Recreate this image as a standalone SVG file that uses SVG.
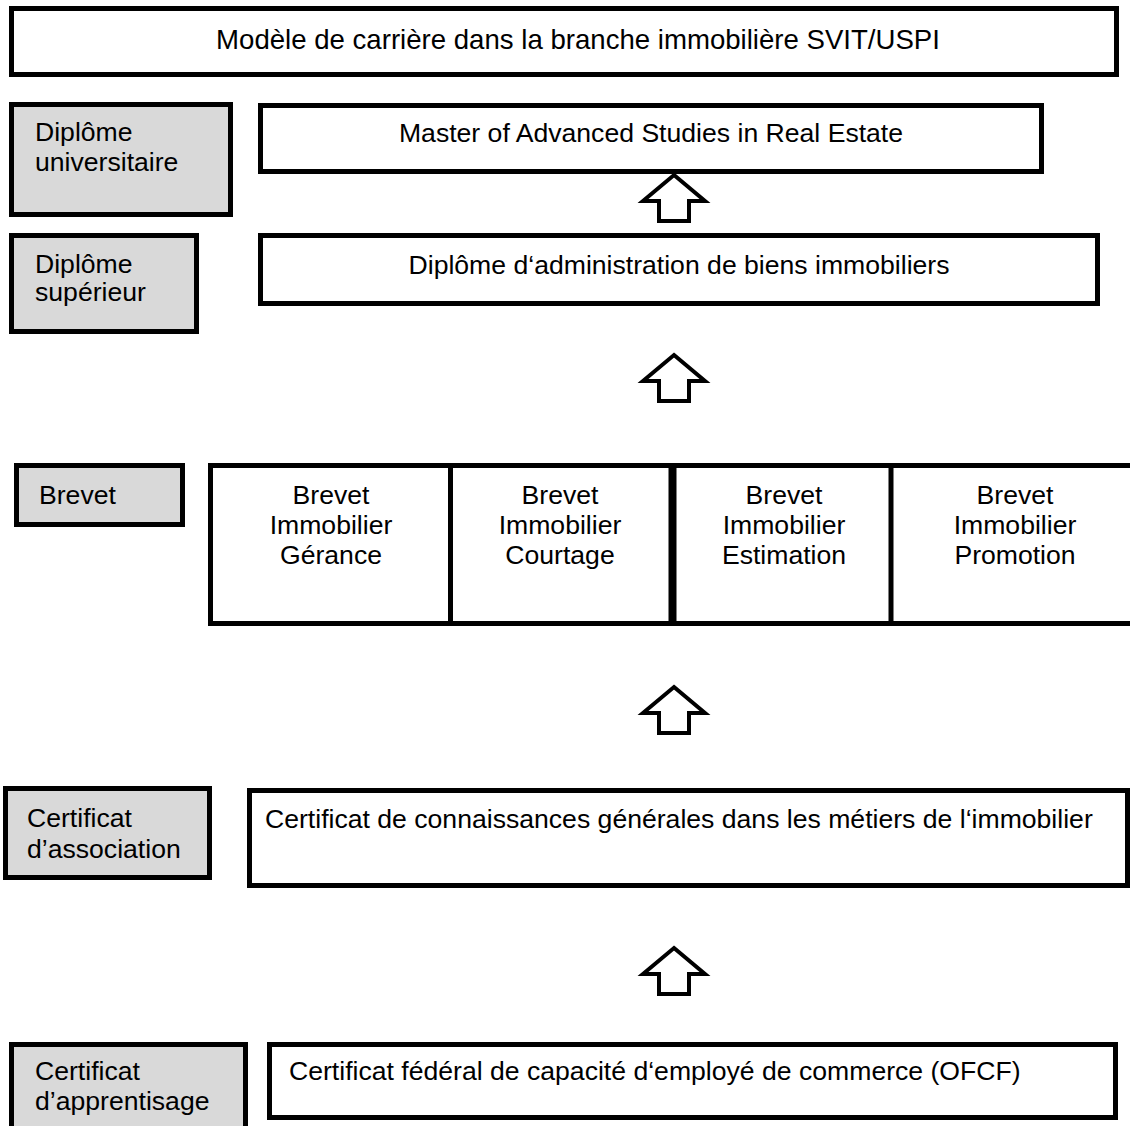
<svg xmlns="http://www.w3.org/2000/svg" width="1130" height="1126" viewBox="0 0 1130 1126">
<style>
.box{fill:#fff;stroke:#000;stroke-width:5}
.gray{fill:#d9d9d9;stroke:#000;stroke-width:5}
.ln{stroke:#000;stroke-width:5;fill:none}
text{font-family:"Liberation Sans",Arial,sans-serif;font-size:26.6px;fill:#000}
.c{text-anchor:middle}
.t{font-size:27.6px}
.arrow{fill:#fff;stroke:#000;stroke-width:4;stroke-linejoin:miter}
</style>
<defs>
<path id="up" d="M0,3 L31,29 L15,29 L15,49 L-15,49 L-15,29 L-31,29 Z"/>
</defs>
<rect width="1130" height="1126" fill="#fff"/>
<g id="title">
<rect class="box" x="11.5" y="8.5" width="1105" height="66"/>
<text class="c t" x="578" y="49">Modèle de carrière dans la branche immobilière SVIT/USPI</text>
</g>
<g id="label-universitaire">
<rect class="gray" x="11.5" y="104.5" width="219" height="110"/>
<text x="35" y="141">Diplôme</text>
<text x="35" y="171">universitaire</text>
</g>
<g id="master">
<rect class="box" x="260.5" y="105.5" width="781" height="66"/>
<text class="c" x="651" y="142">Master of Advanced Studies in Real Estate</text>
</g>
<g id="label-superieur">
<rect class="gray" x="11.5" y="235.5" width="185" height="96"/>
<text x="35" y="273">Diplôme</text>
<text x="35" y="301">supérieur</text>
</g>
<g id="diplome">
<rect class="box" x="260.5" y="235.5" width="837" height="68"/>
<text class="c" x="679" y="274">Diplôme d‘administration de biens immobiliers</text>
</g>
<g id="label-brevet">
<rect class="gray" x="16.5" y="465.5" width="166" height="59"/>
<text x="39" y="504">Brevet</text>
</g>
<g id="brevets">
<line class="ln" x1="208" y1="465.5" x2="1130" y2="465.5"/>
<line class="ln" x1="208" y1="623.5" x2="1130" y2="623.5"/>
<line class="ln" x1="210.5" y1="463" x2="210.5" y2="626"/>
<line class="ln" x1="450.5" y1="463" x2="450.5" y2="626"/>
<line class="ln" x1="672.5" y1="463" x2="672.5" y2="626" style="stroke-width:8"/>
<line class="ln" x1="891" y1="463" x2="891" y2="626"/>
<g id="brevet-gerance">
<text class="c" x="331" y="504">Brevet</text>
<text class="c" x="331" y="534">Immobilier</text>
<text class="c" x="331" y="564">Gérance</text>
</g>
<g id="brevet-courtage">
<text class="c" x="560" y="504">Brevet</text>
<text class="c" x="560" y="534">Immobilier</text>
<text class="c" x="560" y="564">Courtage</text>
</g>
<g id="brevet-estimation">
<text class="c" x="784" y="504">Brevet</text>
<text class="c" x="784" y="534">Immobilier</text>
<text class="c" x="784" y="564">Estimation</text>
</g>
<g id="brevet-promotion">
<text class="c" x="1015" y="504">Brevet</text>
<text class="c" x="1015" y="534">Immobilier</text>
<text class="c" x="1015" y="564">Promotion</text>
</g>
</g>
<g id="label-association">
<rect class="gray" x="5.5" y="788.5" width="204" height="89"/>
<text x="27" y="827">Certificat</text>
<text x="27" y="858">d’association</text>
</g>
<g id="certificat-connaissances">
<rect class="box" x="249.5" y="790.5" width="878" height="95"/>
<text x="265" y="828">Certificat de connaissances générales dans les métiers de l‘immobilier</text>
</g>
<g id="label-apprentissage">
<rect class="gray" x="11.5" y="1044.5" width="234" height="100"/>
<text x="35" y="1080">Certificat</text>
<text x="35" y="1110">d’apprentisage</text>
</g>
<g id="ofcf">
<rect class="box" x="269.5" y="1044.5" width="846" height="73"/>
<text x="289" y="1080">Certificat fédéral de capacité d‘employé de commerce (OFCF)</text>
</g>
<g id="connectors">
<use href="#up" class="arrow" x="674" y="172"/>
<use href="#up" class="arrow" x="674" y="352"/>
<use href="#up" class="arrow" x="674" y="684"/>
<use href="#up" class="arrow" x="674" y="945"/>
</g>
</svg>
